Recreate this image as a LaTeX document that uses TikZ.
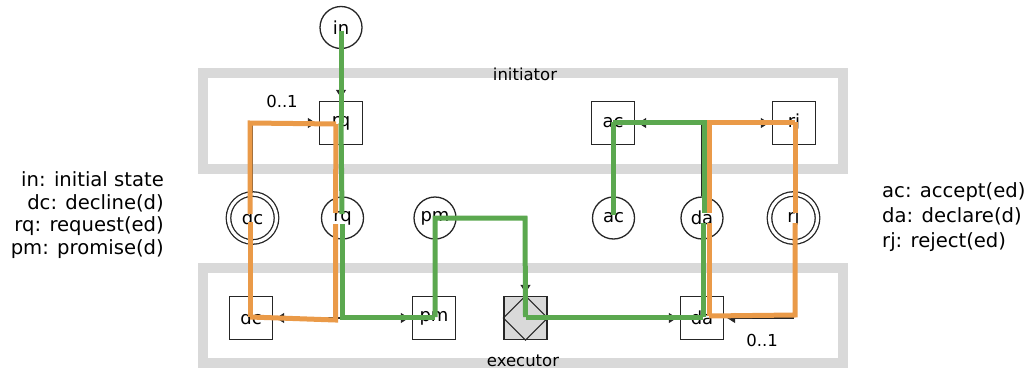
\documentclass[tikz,border=0pt]{standalone}
\usepackage{fontspec}
\setmainfont{DejaVu Sans}
\usetikzlibrary{arrows.meta,calc}
\definecolor{hlgreen}{RGB}{91,168,79}
\definecolor{hlorange}{RGB}{234,154,72}
\definecolor{framegray}{RGB}{217,217,217}
\begin{document}
\begin{tikzpicture}[x=1pt,y=-1pt,
  font=\fontsize{16.5}{20}\selectfont,
  frame/.style={draw=framegray, line width=10pt},
  actbox/.style={draw=black!85, line width=1.3pt, rectangle, minimum size=43pt, inner sep=0pt, font=\fontsize{18}{20}\selectfont},
  fact/.style={draw=black!85, line width=1.3pt, circle, minimum size=42pt, inner sep=0pt, font=\fontsize{18}{20}\selectfont},
  dfact/.style={fact, double, double distance=3.2pt, minimum size=48pt},
  plain/.style={draw=black!85, line width=1.1pt},
  conn/.style={plain, -{Triangle[length=8pt,width=10pt]}, shorten >=3pt},
  glow/.style={line width=5pt, draw=hlgreen},
  olow/.style={line width=5pt, draw=hlorange},
  legend/.style={font=\fontsize{19.6}{22.4}\selectfont, inner sep=0pt}
]
\useasboundingbox (0,0) rectangle (1027,372);
% frames
\draw[frame] (203,73) rectangle (843,169);
\draw[frame] (203,268) rectangle (843,363);
\node[anchor=base, inner sep=0pt] (initlab) at (525,80.5) {initiator};
\node[anchor=base, inner sep=0pt] (execlab) at (523,366.5) {executor};

% nodes
\node[fact] (in) at (341,27.5) {in};
\node[actbox] (rqC) at (341,123) {rq};
\node[actbox] (acC) at (613,123) {ac};
\node[actbox] (rjC) at (794,123) {rj};
\node[dfact] (dcF) at (252.5,218) {dc};
\node[fact] (rqF) at (342.5,218) {rq};
\node[fact] (pmF) at (435,218) {pm};
\node[fact] (acF) at (613.5,218) {ac};
\node[fact] (daF) at (702,218) {da};
\node[dfact] (rjF) at (793.5,218) {rj};
\node[actbox] (dcC) at (251,318) {dc};
\node[actbox] (pmC) at (434,318) {pm};
\node[actbox, fill=framegray] (ex) at (525.5,318) {};
\draw[plain] (ex.north) -- (ex.east) -- (ex.south) -- (ex.west) -- cycle;
\node[actbox] (daC) at (702,318) {da};

% thin connectors
\draw[conn] (in) -- (rqC);
\draw[plain] (rqC) -- (rqF);
\draw[conn] (rqF) |- (dcC);
\draw[conn] (rqF) |- (pmC);
\draw[plain] (dcC) -- (dcF);
\draw[conn] (dcF) |- (rqC);
\draw[plain] (pmC) -- (pmF);
\draw[conn] (pmF) -| (ex);
\draw[conn] (ex) -- (daC);
\draw[plain] (daC) -- (daF);
\draw[conn] (daF) |- (acC);
\draw[conn] (daF) |- (rjC);
\draw[plain] (acC) -- (acF);
\draw[plain] (rjC) -- (rjF);
\draw[conn] (rjF) |- (daC);
\node[inner sep=0pt] (card1) at (282,101) {0..1};
\node[inner sep=0pt] (card2) at (762,340) {0..1};

% orange highlight
\draw[olow] ($(rqC)+(-5,1)$) -- ($(rqF)+(-7,-5)$);
\draw[olow] ($(rqF)+(-7,6)$) -- ($(rqF)+(-7,102)$) -- ($(dcC)+(-1,-1)$);
\draw[olow] ($(dcC)+(-1,-1)$) -- ($(dcF)+(-2.5,4)$);
\draw[olow] ($(dcF)+(-2.5,-4)$) -- ($(dcF)+(-2.5,-95)$) -- ($(rqC)+(-5,1)$);
\draw[olow] ($(daC)+(7,-2)$) -- ($(daF)+(7,5)$);
\draw[olow] ($(daF)+(7,-5)$) -- ($(daF)+(7,-96)$) -- ($(rjC)+(1,-1)$);
\draw[olow] ($(rjC)+(1,-1)$) -- ($(rjF)+(1.5,-5)$);
\draw[olow] ($(rjF)+(1.5,5)$) -- ($(rjF)+(1.5,97)$) -- ($(daC)+(7,-2)$);

% green highlight
\draw[glow] ($(in)+(0,3)$) -- (rqC.center);
\draw[glow] (rqC.center) -- ($(rqF)+(-0.5,-4)$);
\draw[glow] ($(rqF)+(-0.5,6)$) -- ($(rqF)+(-0.5,99)$) -- ($(pmC)+(1,-1)$);
\draw[glow] ($(pmC)+(1,-1)$) -- (pmF.center) -- ($(pmF)+(90,0)$) -- ($(ex)+(0,-1)$);
\draw[glow] ($(ex)+(0,-1)$) -- ($(daC)+(1,-1)$);
\draw[glow] ($(daC)+(1,-1)$) -- ($(daF)+(1,5)$);
\draw[glow] ($(daF)+(2,-5)$) -- ($(daF)+(2,-96)$) -- ($(acC)+(0,-1)$);
\draw[glow] ($(acC)+(0,-1)$) -- ($(acF)+(-0.5,-3)$);

% legends
\node[legend, anchor=base east, align=right] (legL) at (164,254)
  {in: initial state\\dc: decline(d)\\rq: request(ed)\\pm: promise(d)};
\node[legend, anchor=base west, align=left, font=\fontsize{19.6}{24.6}\selectfont] (legR) at (882,247)
  {ac: accept(ed)\\da: declare(d)\\rj: reject(ed)};
\end{tikzpicture}
\end{document}
